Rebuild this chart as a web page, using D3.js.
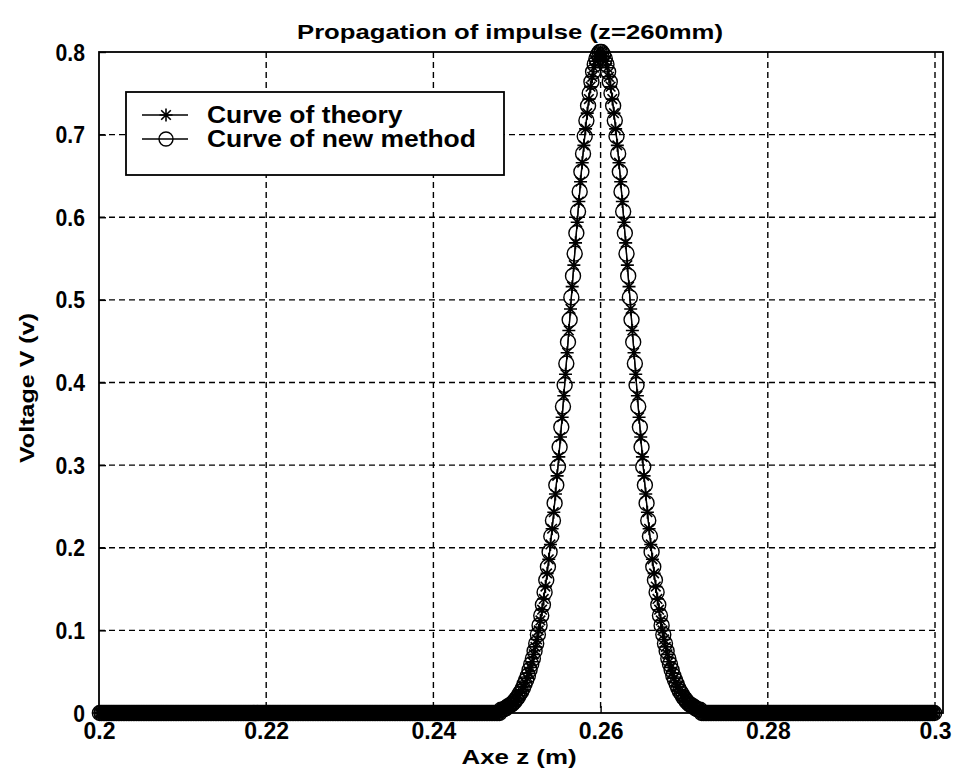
<!DOCTYPE html>
<html>
<head>
<meta charset="utf-8">
<script src="https://cdn.jsdelivr.net/npm/d3@7/dist/d3.min.js"></script>
<style>
  body { margin: 0; background: #fff; }
  text { font-family: "Liberation Sans", Arial, sans-serif; font-weight: bold; fill: #000; }
</style>
</head>
<body>
<div id="chart"></div>
<script>
// sampling grid of both curves (m)
var zStart = 0.2, zEnd = 0.3, zStep = 0.0002;
var baseline = 0;

// theory curve, z = 0.248 .. 0.272 (step 0.0002), voltage (V)
var theoryPulse = [
  .003,.004,.005,.006,.007,.008,.010,.011,.013,.015,
  .018,.021,.024,.028,.032,.037,.042,.048,.055,.062,
  .071,.080,.089,.100,.112,.125,.138,.153,.169,.186,
  .204,.223,.243,.265,.287,.310,.334,.358,.384,.410,
  .436,.463,.489,.516,.542,.569,.594,.619,.643,.666,
  .687,.707,.726,.743,.758,.770,.781,.789,.795,.799,
  .800,
  .799,.795,.789,.781,.770,.758,.743,.726,.707,.687,
  .666,.643,.619,.594,.569,.542,.516,.489,.463,.436,
  .410,.384,.358,.334,.310,.287,.265,.243,.223,.204,
  .186,.169,.153,.138,.125,.112,.100,.089,.080,.071,
  .062,.055,.048,.042,.037,.032,.028,.024,.021,.018,
  .015,.013,.011,.010,.008,.007,.006,.005,.004,.003
];
var theoryStart = 0.248;

// new method curve, z = 0.2481 .. 0.2719 (step 0.0002)
var methodPulse = [
  .004,.004,.005,.006,.008,.009,.010,.012,.014,.017,
  .019,.023,.026,.030,.035,.040,.045,.052,.059,.066,
  .075,.084,.095,.106,.118,.131,.146,.161,.177,.195,
  .214,.233,.254,.276,.298,.322,.346,.371,.397,.423,
  .449,.476,.503,.529,.556,.581,.607,.631,.655,.677,
  .698,.717,.735,.750,.764,.776,.785,.792,.797,.800,
  .800,.797,.792,.785,.776,.764,.750,.735,.717,.698,
  .677,.655,.631,.607,.581,.556,.529,.503,.476,.449,
  .423,.397,.371,.346,.322,.298,.276,.254,.233,.214,
  .195,.177,.161,.146,.131,.118,.106,.095,.084,.075,
  .066,.059,.052,.045,.040,.035,.030,.026,.023,.019,
  .017,.014,.012,.010,.009,.008,.006,.005,.004,.004
];
var methodStart = 0.2481;

var xTicks = [0.2, 0.22, 0.24, 0.26, 0.28, 0.3];
var yTicks = [0, 0.1, 0.2, 0.3, 0.4, 0.5, 0.6, 0.7, 0.8];
var legendLabels = ["Curve of theory", "Curve of new method"];

(function() {
  var w = 953, h = 781;
  var pLeft = 99, pRight = 935, pTop = 52, pBottom = 713;

  var x = d3.scaleLinear().domain([0.2, 0.3]).range([pLeft, pRight]);
  var y = d3.scaleLinear().domain([0, 0.8]).range([pBottom, pTop]);

  // samples: zero baseline, pulse values where read
  function series(start, pulse, first, last) {
    var pts = [];
    var n = Math.round((last - first) / zStep);
    for (var i = 0; i <= n; i++) {
      var z = first + i * zStep;
      var k = Math.round((z - start) / zStep);
      var v = (k >= 0 && k < pulse.length) ? pulse[k] : baseline;
      pts.push({z: z, v: v});
    }
    return pts;
  }
  var theory = series(theoryStart, theoryPulse, zStart, zEnd);
  var method = series(methodStart, methodPulse, zStart + zStep / 2, zEnd - zStep / 2);

  var svg = d3.select("#chart").append("svg")
    .attr("width", w)
    .attr("height", h);

  // squeeze / stretch text horizontally like the scanned original
  function stretch(sel, f) {
    sel.each(function() {
      var len = this.getComputedTextLength();
      d3.select(this).attr("textLength", len * f).attr("lengthAdjust", "spacingAndGlyphs");
    });
  }

  // grid
  var grid = svg.append("g")
    .attr("stroke", "#000")
    .attr("stroke-width", 1.4)
    .attr("stroke-dasharray", "6,4");
  grid.selectAll(".gx").data(xTicks.slice(1))
    .enter().append("line")
    .attr("x1", function(d) { return x(d); }).attr("x2", function(d) { return x(d); })
    .attr("y1", pTop).attr("y2", pBottom);
  grid.selectAll(".gy").data(yTicks.slice(1, -1))
    .enter().append("line")
    .attr("x1", pLeft).attr("x2", pRight)
    .attr("y1", function(d) { return y(d); }).attr("y2", function(d) { return y(d); });

  // axes
  var xAxis = svg.append("g")
    .attr("transform", "translate(0," + pBottom + ")")
    .call(d3.axisBottom(x).tickValues(xTicks).tickSizeInner(-7).tickSizeOuter(0).tickPadding(10)
      .tickFormat(function(d) { return String(+d.toFixed(2)); }));
  var yAxis = svg.append("g")
    .attr("transform", "translate(" + pLeft + ",0)")
    .call(d3.axisLeft(y).tickValues(yTicks).tickSizeInner(-7).tickSizeOuter(0).tickPadding(14)
      .tickFormat(function(d) { return String(+d.toFixed(1)); }));
  [xAxis, yAxis].forEach(function(a) {
    a.select(".domain").remove();
    a.selectAll("line").attr("stroke", "#000").attr("stroke-width", 1.4);
    a.selectAll("text").attr("font-family", null).attr("font-size", 23).attr("fill", "#000");
  });
  xAxis.selectAll("text").attr("dy", "0.71em").call(stretch, 1.0);
  yAxis.selectAll("text").attr("dy", "0.35em").call(stretch, 0.92);

  // curves
  var line = d3.line()
    .x(function(d) { return x(d.z); })
    .y(function(d) { return y(d.v); });

  var star = "M-6.5,0H6.5M0,-6.5V6.5M-4.8,-4.8L4.8,4.8M-4.8,4.8L4.8,-4.8";

  svg.append("path").datum(theory)
    .attr("d", line).attr("fill", "none").attr("stroke", "#000").attr("stroke-width", 1.3);
  svg.append("path").datum(method)
    .attr("d", line).attr("fill", "none").attr("stroke", "#000").attr("stroke-width", 1.3);

  svg.append("g").selectAll("path")
    .data(theory)
    .enter().append("path")
    .attr("d", star)
    .attr("transform", function(d) { return "translate(" + x(d.z) + "," + y(d.v) + ")"; })
    .attr("stroke", "#000").attr("stroke-width", 1.6);

  svg.append("g").selectAll("circle")
    .data(method)
    .enter().append("circle")
    .attr("cx", function(d) { return x(d.z); })
    .attr("cy", function(d) { return y(d.v); })
    .attr("r", 7.5)
    .attr("fill", "none").attr("stroke", "#000").attr("stroke-width", 1.4);

  // frame
  svg.append("rect")
    .attr("x", pLeft).attr("y", pTop)
    .attr("width", pRight + 8 - pLeft).attr("height", pBottom - pTop)
    .attr("fill", "none").attr("stroke", "#000").attr("stroke-width", 1.8);

  // legend
  var lg = svg.append("g").attr("transform", "translate(126,92)");
  lg.append("rect").attr("width", 378).attr("height", 83)
    .attr("fill", "#fff").attr("stroke", "#000").attr("stroke-width", 1.8);
  var items = lg.selectAll(".item").data(legendLabels)
    .enter().append("g")
    .attr("transform", function(d, i) { return "translate(0," + (23 + i * 24) + ")"; });
  items.append("line").attr("x1", 16).attr("x2", 62)
    .attr("stroke", "#000").attr("stroke-width", 1.4);
  items.filter(function(d, i) { return i === 0; }).append("path")
    .attr("d", star).attr("transform", "translate(40,0)")
    .attr("stroke", "#000").attr("stroke-width", 1.6);
  items.filter(function(d, i) { return i === 1; }).append("circle")
    .attr("cx", 40).attr("r", 7)
    .attr("fill", "none").attr("stroke", "#000").attr("stroke-width", 1.4);
  items.append("text")
    .attr("x", 81).attr("dy", "0.36em")
    .attr("font-size", 23)
    .text(function(d) { return d; })
    .call(stretch, 1.15);

  // title and axis labels
  svg.append("text")
    .attr("x", 510).attr("y", 39)
    .attr("text-anchor", "middle").attr("font-size", 21)
    .attr("textLength", 426).attr("lengthAdjust", "spacingAndGlyphs")
    .text("Propagation of impulse (z=260mm)");

  svg.append("text")
    .attr("x", 519).attr("y", 764)
    .attr("text-anchor", "middle").attr("font-size", 21)
    .attr("textLength", 115).attr("lengthAdjust", "spacingAndGlyphs")
    .text("Axe z (m)");

  svg.append("text")
    .attr("transform", "translate(34,388) rotate(-90)")
    .attr("text-anchor", "middle").attr("font-size", 21)
    .attr("textLength", 150).attr("lengthAdjust", "spacingAndGlyphs")
    .text("Voltage V (v)");
})();
</script>
</body>
</html>
